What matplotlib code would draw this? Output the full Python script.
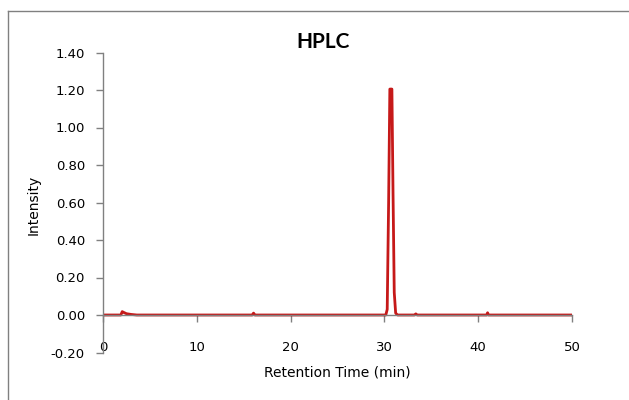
import matplotlib
matplotlib.use("Agg")
import matplotlib.pyplot as plt
from matplotlib.lines import Line2D

# Data
time_min = [0, 1.9, 2.05, 2.2, 2.5, 3.0, 3.6, 15.9, 16.05, 16.2, 29.0, 30.15,
            30.3, 30.45, 30.58, 30.8, 30.92, 31.05, 31.2, 31.4, 33.2, 33.35,
            33.5, 40.9, 41.0, 41.1, 50]
intensity = [0, 0, 0.018, 0.014, 0.007, 0.003, 0, 0, 0.01, 0, 0, 0,
             0.03, 0.6, 1.205, 1.205, 0.65, 0.12, 0.01, 0, 0, 0.006,
             0, 0, 0.012, 0, 0]

xticks = [0, 10, 20, 30, 40, 50]
yticks = [-0.2, 0.0, 0.2, 0.4, 0.6, 0.8, 1.0, 1.2, 1.4]
ytick_labels = ["-0.20", "0.00", "0.20", "0.40", "0.60", "0.80", "1.00", "1.20", "1.40"]

fig = plt.figure(figsize=(6.29, 4.00), dpi=100)
ax = fig.add_axes([103 / 629, 47.5 / 400, 469 / 629, 300 / 400])

ax.plot(time_min, intensity, color="#C00000", lw=2.0, alpha=0.9, solid_joinstyle="round")

ax.set_xlim(0, 50)
ax.set_ylim(-0.2, 1.4)
ax.set_xticks(xticks)
ax.set_yticks(yticks)
ax.set_yticklabels(ytick_labels)

for s in ["top", "right"]:
    ax.spines[s].set_visible(False)
ax.spines["bottom"].set_position(("data", 0))
for s in ["left", "bottom"]:
    ax.spines[s].set_color("#808080")
    ax.spines[s].set_linewidth(1.0)

ax.tick_params(axis="both", colors="#808080", length=5, width=1, direction="out",
               labelcolor="black", labelsize=9.5)
ax.tick_params(axis="x", pad=14)
ax.tick_params(axis="y", pad=8)
for lbl in ax.get_xticklabels() + ax.get_yticklabels():
    lbl.set_fontfamily("DejaVu Sans")

fig.text(323 / 629, 1 - 42 / 400, "HPLC", ha="center", va="center",
         fontsize=15, fontweight="bold", family="Lato")
fig.text(337 / 629, 1 - 372 / 400, "Retention Time (min)", ha="center", va="center",
         fontsize=10, family="DejaVu Sans")
fig.text(34 / 629, 1 - 205 / 400, "Intensity", ha="center", va="center",
         rotation=90, fontsize=10, family="DejaVu Sans")

# Chart-area border (left and top edges visible)
fig.add_artist(Line2D([7.5 / 629, 7.5 / 629], [0, 1 - 10.5 / 400],
                      transform=fig.transFigure, color="#808080", lw=1))
fig.add_artist(Line2D([7.5 / 629, 1], [1 - 10.5 / 400, 1 - 10.5 / 400],
                      transform=fig.transFigure, color="#808080", lw=1))

fig.savefig("out.png", dpi=100)
